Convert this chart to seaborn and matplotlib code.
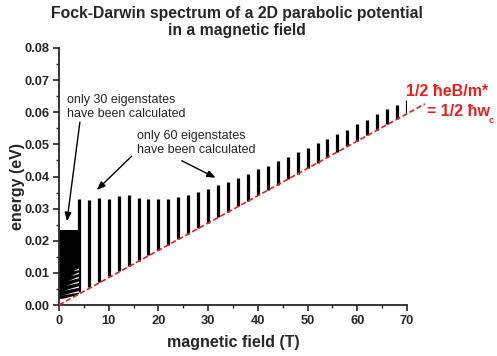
import numpy as np
import pandas as pd
import matplotlib
matplotlib.use("Agg")
import matplotlib.pyplot as plt
import seaborn as sns

# ---------------- data ----------------
# dense low-field region (only 30 eigenstates)
dense_B = [0.0, 0.5, 1.0, 1.5, 2.0, 2.5, 3.0, 3.5, 3.9]
dense_bottom = [0.0020, 0.0021, 0.0022, 0.0024, 0.0026, 0.0028, 0.0030, 0.0033, 0.0036]
dense_top = [0.0235, 0.0235, 0.0235, 0.0235, 0.0235, 0.0235, 0.0235, 0.0235, 0.0235]

# white gaps of the level fan inside the dense region
gap_B_start = [0.5, 0.9, 1.3, 1.8, 2.3, 2.8]
gap_E_start = [0.0031, 0.0046, 0.0061, 0.0076, 0.0091, 0.0106]
gap_B_end = [3.9, 3.9, 3.9, 3.9, 3.9, 3.9]
gap_E_end = [0.0043, 0.0058, 0.0073, 0.0088, 0.0101, 0.0113]

# spectrum bars (only 60 eigenstates)
bar_B = [4, 6, 8, 10, 12, 14, 16, 18, 20, 22, 24, 26, 28, 30, 32, 34, 36,
         38, 40, 42, 44, 46, 48, 50, 52, 54, 56, 58, 60, 62, 64, 66, 68, 70]
bar_top = [0.0329, 0.0327, 0.0332, 0.0330, 0.0338, 0.0341, 0.0332, 0.0330,
           0.0329, 0.0330, 0.0336, 0.0343, 0.0351, 0.0362, 0.0372, 0.0383,
           0.0394, 0.0407, 0.0422, 0.0432, 0.0448, 0.0461, 0.0476, 0.0490,
           0.0503, 0.0517, 0.0532, 0.0546, 0.0563, 0.0577, 0.0596, 0.0610,
           0.0624, 0.0638]
bar_bottom = [0.0040, 0.0057, 0.0073, 0.0089, 0.0105, 0.0121, 0.0138, 0.0155,
              0.0172, 0.0188, 0.0205, 0.0222, 0.0239, 0.0256, 0.0273, 0.0290,
              0.0307, 0.0324, 0.0341, 0.0358, 0.0375, 0.0392, 0.0409, 0.0426,
              0.0443, 0.0460, 0.0477, 0.0494, 0.0511, 0.0528, 0.0545, 0.0562,
              0.0579, 0.0596]

# half cyclotron energy line
cyc_B = [0.0, 73.6]
cyc_E = [0.0, 0.0626]

x_ticks = [0, 10, 20, 30, 40, 50, 60, 70]
y_ticks = [0.00, 0.01, 0.02, 0.03, 0.04, 0.05, 0.06, 0.07, 0.08]
y_tick_labels = ["0.00", "0.01", "0.02", "0.03", "0.04", "0.05", "0.06", "0.07", "0.08"]

# ---------------- style ----------------
sns.set_style("ticks")
plt.rcParams['font.family'] = ['Liberation Sans', 'DejaVu Sans']
plt.rcParams['axes.linewidth'] = 1.3

RED = '#e3211f'

fig = plt.figure(figsize=(4.97, 3.56), dpi=100)
ax = fig.add_axes([59/497, 1 - 305/356, 348/497, 257/356])

# dense region
ax.fill_between(dense_B, dense_bottom, dense_top, color='black', lw=0, zorder=2)
for bs, es, be, ee in zip(gap_B_start, gap_E_start, gap_B_end, gap_E_end):
    ax.fill_between([bs, be], [es, ee - 0.0003], [es, ee + 0.0002],
                    color='white', lw=0, zorder=3)

# bars
ax.vlines(bar_B, bar_bottom, bar_top, colors='black', lw=2.3, zorder=2)

# red dashed line
df_line = pd.DataFrame({'B': cyc_B, 'E': cyc_E})
sns.lineplot(data=df_line, x='B', y='E', ax=ax, color=RED, lw=1.2,
             zorder=4, clip_on=False)
ax.lines[-1].set_dashes((3.2, 1.6))

ax.set_xlim(0, 70)
ax.set_ylim(0, 0.08)
ax.set_xticks(x_ticks)
ax.set_yticks(y_ticks)
ax.set_yticklabels(y_tick_labels)
ax.set_xticks(np.arange(5, 70, 10), minor=True)
ax.set_yticks(np.arange(0.005, 0.08, 0.01), minor=True)
ax.tick_params(which='major', direction='out', length=4.5, width=1.2,
               labelsize=9.3, pad=2)
ax.tick_params(which='minor', direction='out', length=2.5, width=1.0)
ax.tick_params(axis='x', pad=3)
for lab in ax.get_xticklabels() + ax.get_yticklabels():
    lab.set_fontweight('bold')
sns.despine(ax=ax)
ax.set_xlabel('')
ax.set_ylabel('')

# labels
fig.text(0.469, 1 - 343/356, 'magnetic field (T)', ha='center', va='center',
         fontsize=11.5, fontweight='bold')
fig.text(0.035, 0.475, 'energy (eV)', ha='center', va='center', rotation=90,
         fontsize=11.5, fontweight='bold')
fig.text(0.477, 1 - 22/356,
         'Fock-Darwin spectrum of a 2D parabolic potential\nin a magnetic field',
         ha='center', va='center', fontsize=11.3, fontweight='bold',
         linespacing=1.2)

# annotations
ax.text(1.6, 0.0617, 'only 30 eigenstates\nhave been calculated', ha='left',
        va='center', fontsize=9, linespacing=1.25)
ax.text(15.7, 0.0505, 'only 60 eigenstates\nhave been calculated', ha='left',
        va='center', fontsize=9, linespacing=1.25)

arrow_kw = dict(arrowstyle='-|>,head_length=0.5,head_width=0.2', color='black',
                lw=1.0, shrinkA=0, shrinkB=0)
ax.annotate('', xy=(1.6, 0.0261), xytext=(4.2, 0.0569), arrowprops=arrow_kw)
ax.annotate('', xy=(7.6, 0.0358), xytext=(14.6, 0.0463), arrowprops=arrow_kw)
ax.annotate('', xy=(31.5, 0.0396), xytext=(24.7, 0.0449), arrowprops=arrow_kw)

ax.text(69.8, 0.0666, '1/2 ħeB/m*', color=RED, ha='left', va='center',
        fontsize=11.5, fontweight='bold', clip_on=False)
ax.text(74.0, 0.0601, '= 1/2 ħw', color=RED, ha='left', va='center',
        fontsize=11.5, fontweight='bold', clip_on=False)
ax.text(86.4, 0.0573, 'c', color=RED, ha='left', va='center',
        fontsize=6.5, fontweight='bold', clip_on=False)

fig.savefig('out.png', dpi=100)
